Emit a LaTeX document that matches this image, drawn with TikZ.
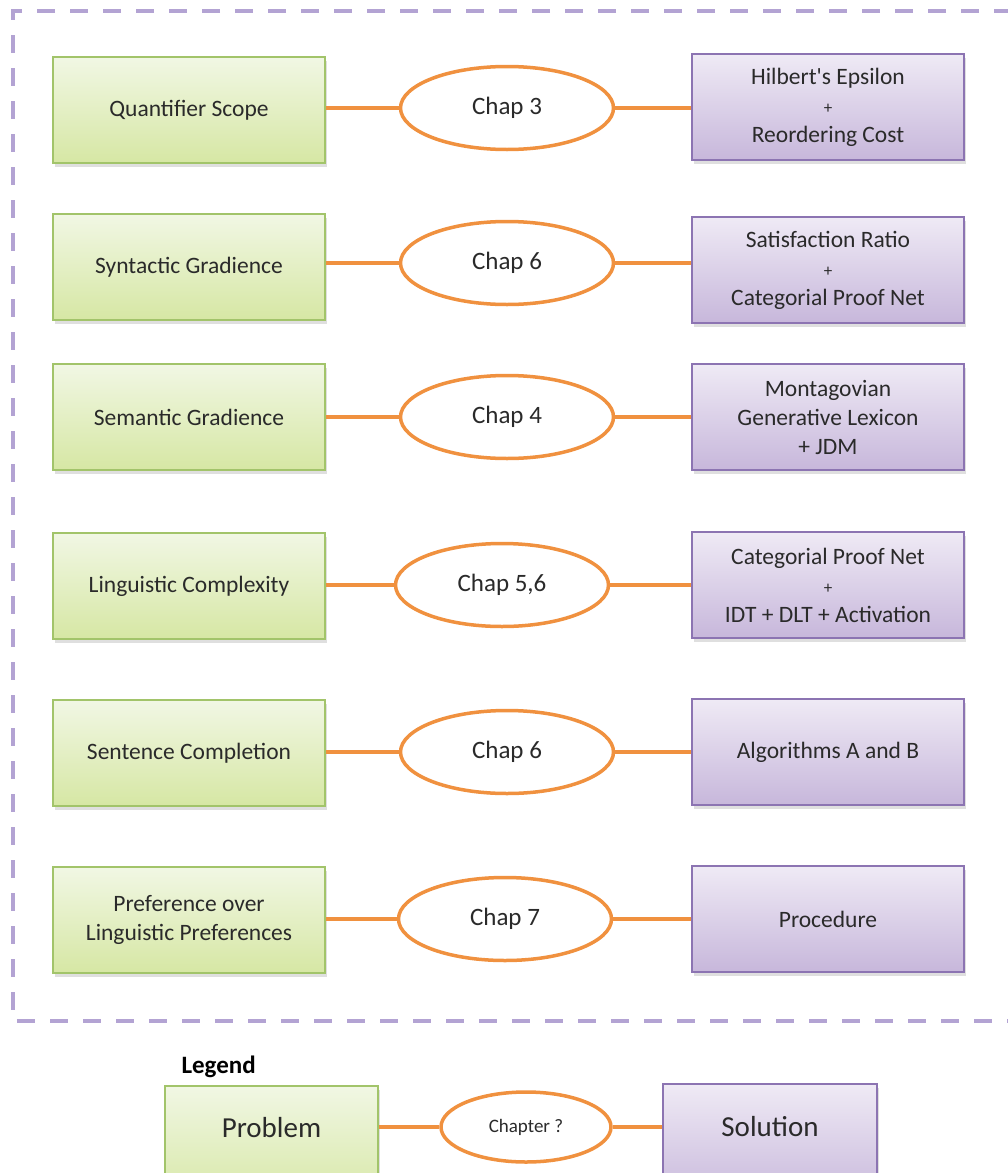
\documentclass[tikz,border=0pt]{standalone}
\usepackage{fontspec}
\setmainfont{Carlito}[Ligatures=TeXOff]
\usetikzlibrary{shapes.geometric,shadows}
\definecolor{gtop}{HTML}{F1F7E4}
\definecolor{gbot}{HTML}{D6E7A4}
\definecolor{gline}{HTML}{A2C46A}
\definecolor{ptop}{HTML}{EFEAF5}
\definecolor{pbot}{HTML}{C7B7DB}
\definecolor{pline}{HTML}{8C74B2}
\definecolor{orng}{HTML}{F0913F}
\definecolor{frame}{HTML}{B3A3D3}
\definecolor{txt}{HTML}{2A2A2A}
\newcommand{\smallplus}{{\fontsize{17}{29}\selectfont +}}
\tikzset{
  box/.style={minimum width=272pt, minimum height=106pt, align=center, text=txt,
    font=\fontsize{23.5}{29}\selectfont, line width=1.6pt,
    drop shadow={opacity=0.25, shadow xshift=2pt, shadow yshift=-4pt}},
  prob/.style={box, draw=gline, top color=gtop, bottom color=gbot},
  sol/.style={box, draw=pline, top color=ptop, bottom color=pbot},
  chap/.style={ellipse, draw=orng, fill=white, line width=3.5pt, minimum width=213pt,
    minimum height=83pt, inner sep=0pt, text=txt, font=\fontsize{25}{30}\selectfont},
  link/.style={draw=orng, line width=4pt},
}
\begin{document}
\begin{tikzpicture}[x=1pt,y=-1pt]
\useasboundingbox (0,0) rectangle (1008,1173);
\draw[frame, line width=4pt, dash pattern=on 18pt off 15pt] (1012,11) -- (13,11) -- (13,1021) -- (1012,1021);

% row 1
\node[prob] (p1) at (189,110) {Quantifier Scope};
\node[chap] (c1) at (507,108) {Chap 3};
\node[sol]  (s1) at (828,107) {Hilbert's Epsilon\\\smallplus\\Reordering Cost};
% row 2
\node[prob] (p2) at (189,267) {Syntactic Gradience};
\node[chap] (c2) at (507,263) {Chap 6};
\node[sol]  (s2) at (828,270) {Satisfaction Ratio\\\smallplus\\Categorial Proof Net};
% row 3
\node[prob] (p3) at (189,417) {Semantic Gradience};
\node[chap] (c3) at (507,417) {Chap 4};
\node[sol]  (s3) at (828,417) {Montagovian\\Generative Lexicon\\+ JDM};
% row 4
\node[prob] (p4) at (189,586) {Linguistic Complexity};
\node[chap] (c4) at (502,585) {Chap 5,6};
\node[sol]  (s4) at (828,585) {Categorial Proof Net\\\smallplus\\IDT + DLT + Activation};
% row 5
\node[prob] (p5) at (189,753) {Sentence Completion};
\node[chap] (c5) at (507,752) {Chap 6};
\node[sol]  (s5) at (828,752) {Algorithms A and B};
% row 6
\node[prob] (p6) at (189,920) {Preference over\\Linguistic Preferences};
\node[chap] (c6) at (505,919) {Chap 7};
\node[sol]  (s6) at (828,919) {Procedure};

\foreach \i in {1,...,6} {
  \draw[link] (c\i.west -| p\i.east) -- (c\i.west);
  \draw[link] (c\i.east) -- (c\i.east -| s\i.west);
}

% legend
\node[anchor=west, text=black, font=\fontsize{25}{30}\selectfont\bfseries] (lg) at (178,1067) {Legend};
\node[prob, minimum width=213pt, minimum height=120pt] (pl) at (271.5,1146) {};
\node[text=txt, font=\fontsize{29}{34}\selectfont] (plt) at (271.5,1128) {Problem};
\node[sol, minimum width=214pt, minimum height=120pt] (sl) at (770,1144) {};
\node[text=txt, font=\fontsize{29}{34}\selectfont] (slt) at (770,1127) {Solution};
\node[chap, minimum width=170pt, minimum height=70pt, font=\fontsize{19}{23}\selectfont] (cl) at (526,1127) {Chapter ?};
\draw[link] (cl.west -| pl.east) -- (cl.west);
\draw[link] (cl.east) -- (cl.east -| sl.west);
\end{tikzpicture}
\end{document}
